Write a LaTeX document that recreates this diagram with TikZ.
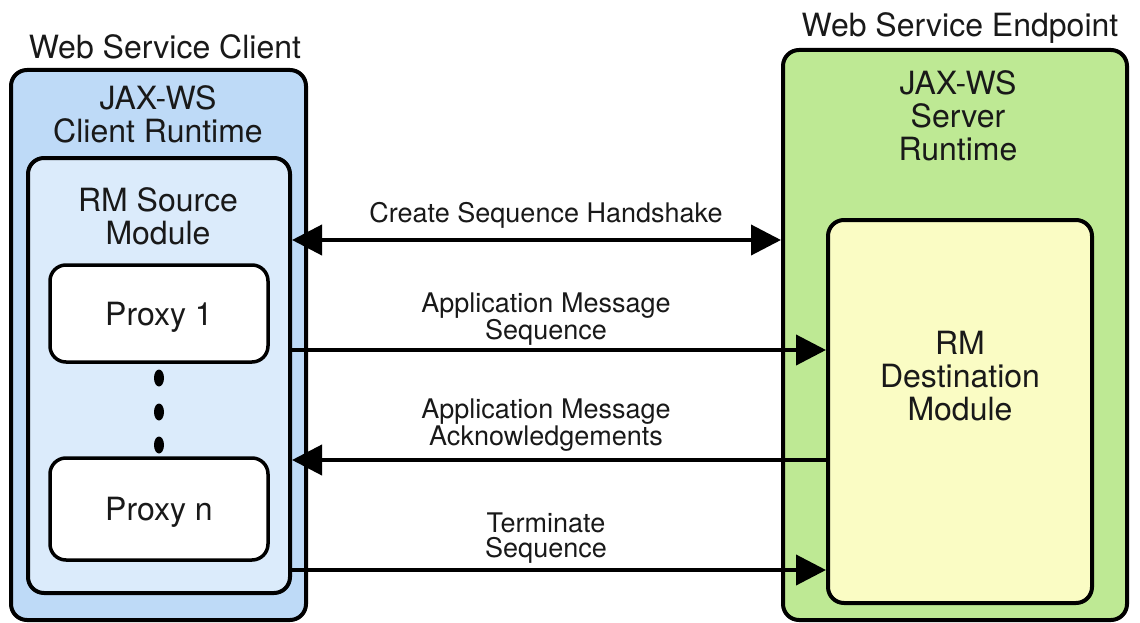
\documentclass[tikz,border=0pt]{standalone}
\usepackage{fontspec}
\setmainfont{TeX Gyre Heros}
\usetikzlibrary{arrows.meta,shapes.geometric}

\definecolor{clientblue}{RGB}{190,218,247}
\definecolor{sourceblue}{RGB}{219,235,251}
\definecolor{servergreen}{RGB}{190,233,148}
\definecolor{destyellow}{RGB}{250,252,196}
\definecolor{inkgray}{RGB}{25,25,25}

\begin{document}
\begin{tikzpicture}[
  x=1pt,y=-1pt,
  box/.style={draw=black,line width=4pt,rounded corners=16pt,inner sep=0pt},
  proxy box/.style={box,fill=white,line width=3.5pt,minimum width=218pt,
    font=\fontsize{32}{33}\selectfont,text=inkgray,text depth=0pt},
  title/.style={font=\fontsize{32}{33}\selectfont,text=inkgray,align=center,inner sep=0pt},
  msg/.style={font=\fontsize{27}{25}\selectfont,text=inkgray,align=center,inner sep=0pt},
  dot/.style={ellipse,fill=black,minimum width=10pt,minimum height=17pt,inner sep=0pt},
  msg arrow/.style={draw,line width=4pt,>={Triangle[length=30pt,width=30pt]}},
  ]
  \useasboundingbox (0,0) rectangle (1140,623);

  % client side
  \node[box,fill=clientblue,minimum width=295pt,minimum height=550pt](client) at (158.5,345){};
  \node[box,fill=sourceblue,minimum width=262pt,minimum height=435pt](source) at (159,375.5){};
  \node[proxy box,minimum height=97pt](proxy1) at (159,313.5){Proxy 1};
  \node[proxy box,minimum height=102pt](proxyn) at (159,509){Proxy n};
  \foreach \y [count=\i] in {378,412,445}
    \node[dot](dot\i) at (159,\y){};

  % server side
  \node[box,fill=servergreen,minimum width=344pt,minimum height=570pt](server) at (955,335){};
  \node[box,fill=destyellow,minimum width=264pt,minimum height=383pt](dest) at (960,411.5){};

  % titles
  \node[title](clientname) at (165,47){Web Service Client};
  \node[title](servername) at (960,28){Web Service Endpoint};
  \node[title](clientrt) at (158,114){JAX-WS\\Client Runtime};
  \node[title](serverrt) at (958,116){JAX-WS\\Server\\Runtime};
  \node[title](sourcename) at (158,216){RM Source\\Module};
  \node[title](destname) at (960,376){RM\\Destination\\Module};

  % messages
  \coordinate (handshake) at (0,240);
  \coordinate (appseq) at (0,350);
  \coordinate (appack) at (0,460);
  \coordinate (terminate) at (0,570);
  \node[msg](handshakelabel) at (546,215){Create Sequence Handshake};
  \node[msg](seqlabel) at (546,319){Application Message\\Sequence};
  \node[msg](acklabel) at (546,425){Application Message\\Acknowledgements};
  \node[msg](termlabel) at (546,538){Terminate\\Sequence};
  \path[msg arrow]
  (source.east |- handshake) edge[<->] (server.west |- handshake)
  (source.east |- appseq) edge[->] (dest.west |- appseq)
  (dest.west |- appack) edge[->] (source.east |- appack)
  (source.east |- terminate) edge[->] (dest.west |- terminate);
\end{tikzpicture}
\end{document}
